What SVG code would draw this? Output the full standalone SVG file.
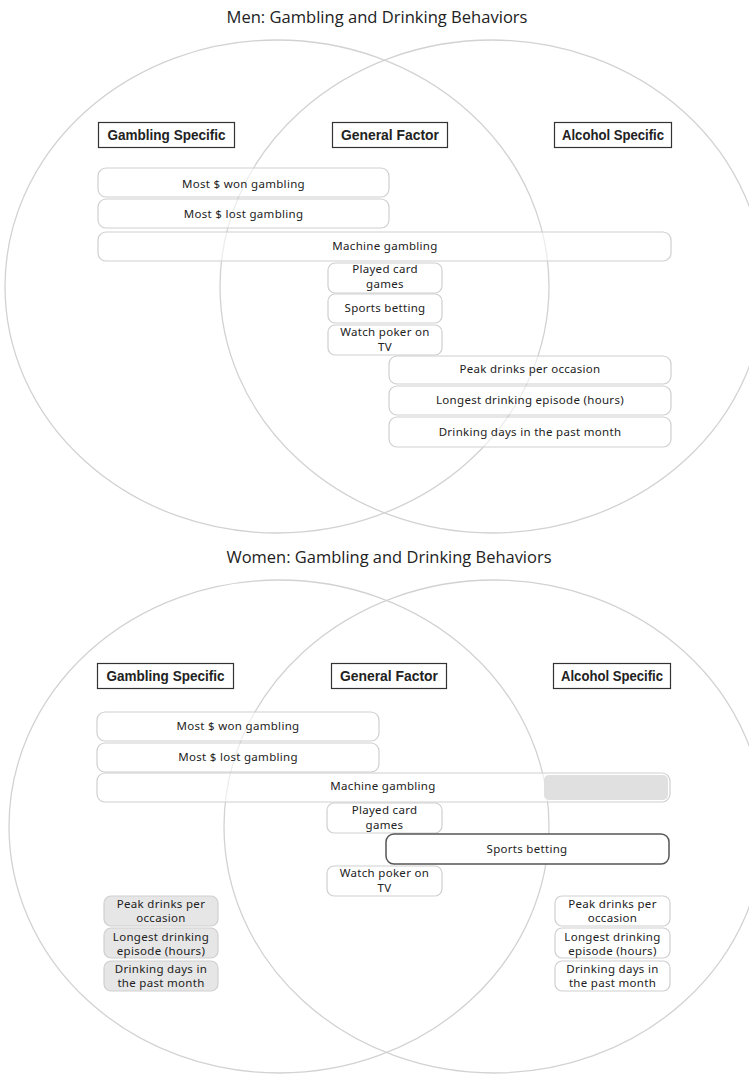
<svg xmlns="http://www.w3.org/2000/svg" width="749" height="1074" viewBox="0 0 749 1074">
<style>
  .bg{fill:#ffffff}
  .venn{fill:none;stroke:#d2d2d2;stroke-width:1.3}
  .title{font-family:"Open Sans","Noto Sans","Liberation Sans",sans-serif;font-size:17px;fill:#222;text-anchor:middle}
  .hdr rect{fill:#fff;stroke:#333;stroke-width:1.2}
  .hdr text{font-family:"Liberation Sans",Arial,sans-serif;font-size:14px;font-weight:bold;fill:#222;text-anchor:middle}
  .item rect{fill:#fff;fill-opacity:0.6;stroke:#cfcfcf;stroke-width:1.2}
  .item text{font-family:"Noto Sans","Open Sans","Liberation Sans",sans-serif;font-size:11.5px;fill:#222;text-anchor:middle;letter-spacing:0.3px}
  .gray rect{fill:#e6e6e6;fill-opacity:1;stroke:#cfcfcf}
  .dark rect{stroke:#555;stroke-width:1.5;fill-opacity:1}
</style>
<rect class="bg" x="0" y="0" width="749" height="1074"/>

<!-- Men -->
<g id="men-venn">
  <ellipse class="venn" cx="277" cy="286.5" rx="272" ry="246.5"/>
  <ellipse class="venn" cx="492" cy="286.5" rx="272" ry="246.5"/>
</g>
<text class="title" x="377" y="23" textLength="301" lengthAdjust="spacingAndGlyphs">Men: Gambling and Drinking Behaviors</text>

<g id="men-gambling-specific" class="hdr"><rect x="98.5" y="122.5" width="136" height="25"/><text x="166.5" y="140" textLength="118" lengthAdjust="spacingAndGlyphs">Gambling Specific</text></g>
<g id="men-general-factor" class="hdr"><rect x="332.5" y="122.5" width="115" height="25"/><text x="390" y="140" textLength="98" lengthAdjust="spacingAndGlyphs">General Factor</text></g>
<g id="men-alcohol-specific" class="hdr"><rect x="554.5" y="122.5" width="117" height="25"/><text x="613" y="140" textLength="102" lengthAdjust="spacingAndGlyphs">Alcohol Specific</text></g>

<g id="men-most-won" class="item"><rect x="98" y="168" width="291" height="29" rx="8"/><text x="243.5" y="188">Most $ won gambling</text></g>
<g id="men-most-lost" class="item"><rect x="98" y="199" width="291" height="29" rx="8"/><text x="243.5" y="218">Most $ lost gambling</text></g>
<g id="men-machine" class="item"><rect x="98" y="232" width="573" height="29" rx="8"/><text x="385" y="250">Machine gambling</text></g>
<g id="men-card" class="item"><rect x="328" y="263" width="114" height="30" rx="7"/><text x="385" y="273">Played card</text><text x="385" y="288">games</text></g>
<g id="men-sports" class="item"><rect x="328" y="294" width="114" height="29" rx="7"/><text x="385" y="312">Sports betting</text></g>
<g id="men-poker" class="item"><rect x="328" y="325" width="114" height="30" rx="7"/><text x="385" y="336">Watch poker on</text><text x="385" y="351">TV</text></g>
<g id="men-peak" class="item"><rect x="389" y="356" width="282" height="28" rx="8"/><text x="530" y="373">Peak drinks per occasion</text></g>
<g id="men-longest" class="item"><rect x="389" y="386" width="282" height="29" rx="8"/><text x="530" y="404">Longest drinking episode (hours)</text></g>
<g id="men-days" class="item"><rect x="389" y="417" width="282" height="30" rx="8"/><text x="530" y="436">Drinking days in the past month</text></g>

<!-- Women -->
<g id="women-venn">
  <ellipse class="venn" cx="279" cy="826.5" rx="270" ry="246.5"/>
  <ellipse class="venn" cx="494" cy="826.5" rx="270" ry="246.5"/>
</g>
<text class="title" x="389" y="563" textLength="325" lengthAdjust="spacingAndGlyphs">Women: Gambling and Drinking Behaviors</text>

<g id="women-gambling-specific" class="hdr"><rect x="97.5" y="663.5" width="136" height="25"/><text x="165.5" y="681" textLength="118" lengthAdjust="spacingAndGlyphs">Gambling Specific</text></g>
<g id="women-general-factor" class="hdr"><rect x="331.5" y="663.5" width="115" height="25"/><text x="389" y="681" textLength="98" lengthAdjust="spacingAndGlyphs">General Factor</text></g>
<g id="women-alcohol-specific" class="hdr"><rect x="553.5" y="663.5" width="117" height="25"/><text x="612" y="681" textLength="102" lengthAdjust="spacingAndGlyphs">Alcohol Specific</text></g>

<g id="women-most-won" class="item"><rect x="97" y="712" width="282" height="29" rx="8"/><text x="238" y="730">Most $ won gambling</text></g>
<g id="women-most-lost" class="item"><rect x="97" y="743" width="282" height="29" rx="8"/><text x="238" y="761">Most $ lost gambling</text></g>
<g id="women-machine" class="item"><rect x="97" y="773" width="573" height="29" rx="8"/><rect x="544" y="775" width="124" height="25" rx="5" style="fill:#e0e0e0;fill-opacity:1;stroke:none"/><text x="383" y="790">Machine gambling</text></g>
<g id="women-card" class="item"><rect x="327" y="803" width="115" height="30" rx="7"/><text x="384.5" y="814">Played card</text><text x="384.5" y="829">games</text></g>
<g id="women-sports" class="item dark"><rect x="386" y="834" width="283" height="30" rx="8"/><text x="527" y="853">Sports betting</text></g>
<g id="women-poker" class="item"><rect x="327" y="866" width="115" height="30" rx="7"/><text x="384.5" y="877">Watch poker on</text><text x="384.5" y="892">TV</text></g>

<g id="women-peak-left" class="item gray"><rect x="104" y="896" width="114" height="30" rx="7"/><text x="161" y="908">Peak drinks per</text><text x="161" y="922">occasion</text></g>
<g id="women-longest-left" class="item gray"><rect x="104" y="928" width="114" height="30" rx="7"/><text x="161" y="941">Longest drinking</text><text x="161" y="955">episode (hours)</text></g>
<g id="women-days-left" class="item gray"><rect x="104" y="961" width="114" height="30" rx="7"/><text x="161" y="973">Drinking days in</text><text x="161" y="987">the past month</text></g>

<g id="women-peak-right" class="item"><rect x="555" y="896" width="115" height="30" rx="7"/><text x="612.5" y="908">Peak drinks per</text><text x="612.5" y="922">occasion</text></g>
<g id="women-longest-right" class="item"><rect x="555" y="928" width="115" height="30" rx="7"/><text x="612.5" y="941">Longest drinking</text><text x="612.5" y="955">episode (hours)</text></g>
<g id="women-days-right" class="item"><rect x="555" y="961" width="115" height="30" rx="7"/><text x="612.5" y="973">Drinking days in</text><text x="612.5" y="987">the past month</text></g>
</svg>
